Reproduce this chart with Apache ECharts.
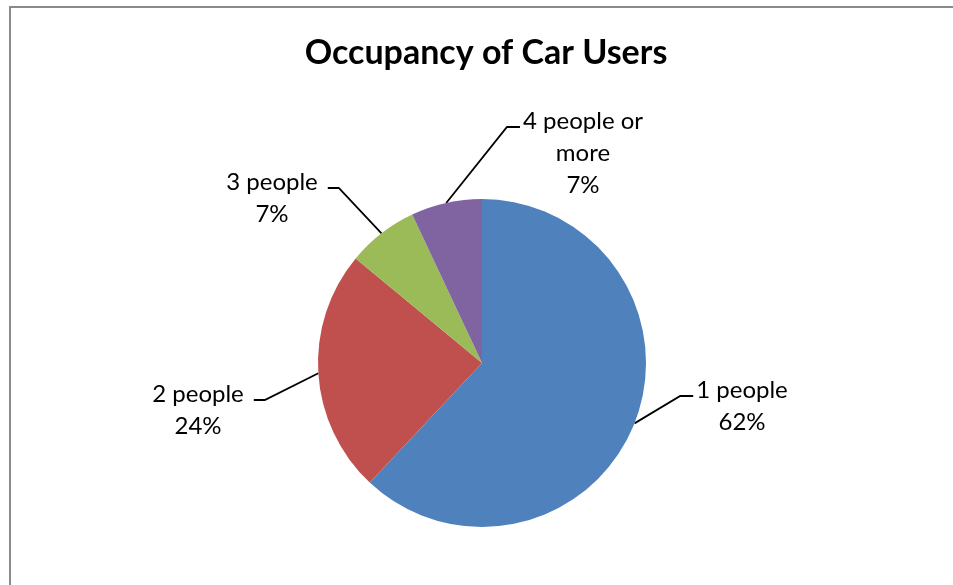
<!DOCTYPE html>
<html>
<head>
<meta charset="utf-8">
<title>Occupancy of Car Users</title>
<script src="https://cdn.jsdelivr.net/npm/echarts@6/dist/echarts.min.js"></script>
<style>
  html, body { margin: 0; padding: 0; background: #ffffff; }
  #chart { width: 953px; height: 585px; }
</style>
</head>
<body>
<div id="chart"></div>
<script>
// Car occupancy shares (percent of car users)
const categories = ['1 people', '2 people', '3 people', '4 people or more'];
const values = [62, 24, 7, 7];
const labelNames = ['1 people', '2 people', '3 people', '4 people or\nmore'];
const sliceColors = ['#4F81BD', '#C0504D', '#9BBB59', '#8064A2'];

// Where each callout sits: text block centre x, first text line centre y, side of the pie
const calloutSpots = [
  { x: 742, y: 390, side: 1 },
  { x: 198, y: 394, side: -1 },
  { x: 272, y: 182, side: -1 },
  { x: 583, y: 121, side: 1 }
];

const LINE_H = 32;
const chart = echarts.init(document.getElementById('chart'), null, { renderer: 'canvas' });

chart.setOption({
  backgroundColor: '#ffffff',
  animation: false,
  title: {
    text: 'Occupancy of Car Users',
    left: 486,
    top: 36,
    padding: 0,
    textAlign: 'center',
    textStyle: { fontFamily: 'Lato', fontWeight: 'bold', fontSize: 34, color: '#000000' }
  },
  graphic: [{
    type: 'rect',
    shape: { x: 10, y: 7, width: 960, height: 600 },
    style: { fill: 'none', stroke: '#8a8a8a', lineWidth: 2 },
    silent: true
  }],
  series: [{
    type: 'pie',
    center: [482, 363],
    radius: 164,
    startAngle: 90,
    clockwise: true,
    avoidLabelOverlap: false,
    itemStyle: { borderWidth: 0 },
    emphasis: { disabled: true },
    data: categories.map((c, i) => ({
      name: c,
      value: values[i],
      itemStyle: { color: sliceColors[i] }
    })),
    label: {
      show: true,
      position: 'outside',
      color: '#000000',
      fontFamily: 'Lato',
      fontSize: 24,
      lineHeight: LINE_H,
      formatter: p => labelNames[p.dataIndex] + '\n' + Math.round(p.percent) + '%'
    },
    labelLine: {
      show: true,
      length: 20,
      length2: 10,
      lineStyle: { color: '#000000', width: 1.8 }
    },
    labelLayout: params => {
      const spot = calloutSpots[params.dataIndex];
      const w = params.labelRect.width;
      const edge = params.labelLinePoints ? params.labelLinePoints[0] : [spot.x, spot.y];
      const stubY = spot.y + 6;
      let stubEnd, stubStart;
      if (spot.side > 0) {
        stubEnd = spot.x - w / 2 - 3;
        stubStart = stubEnd - 13;
      } else {
        stubEnd = spot.x + w / 2 + 10;
        stubStart = stubEnd + 11;
      }
      return {
        x: spot.x,
        y: spot.y - LINE_H / 2,
        align: 'center',
        verticalAlign: 'top',
        labelLinePoints: [edge, [stubStart, stubY], [stubEnd, stubY]]
      };
    }
  }]
});
</script>
</body>
</html>
